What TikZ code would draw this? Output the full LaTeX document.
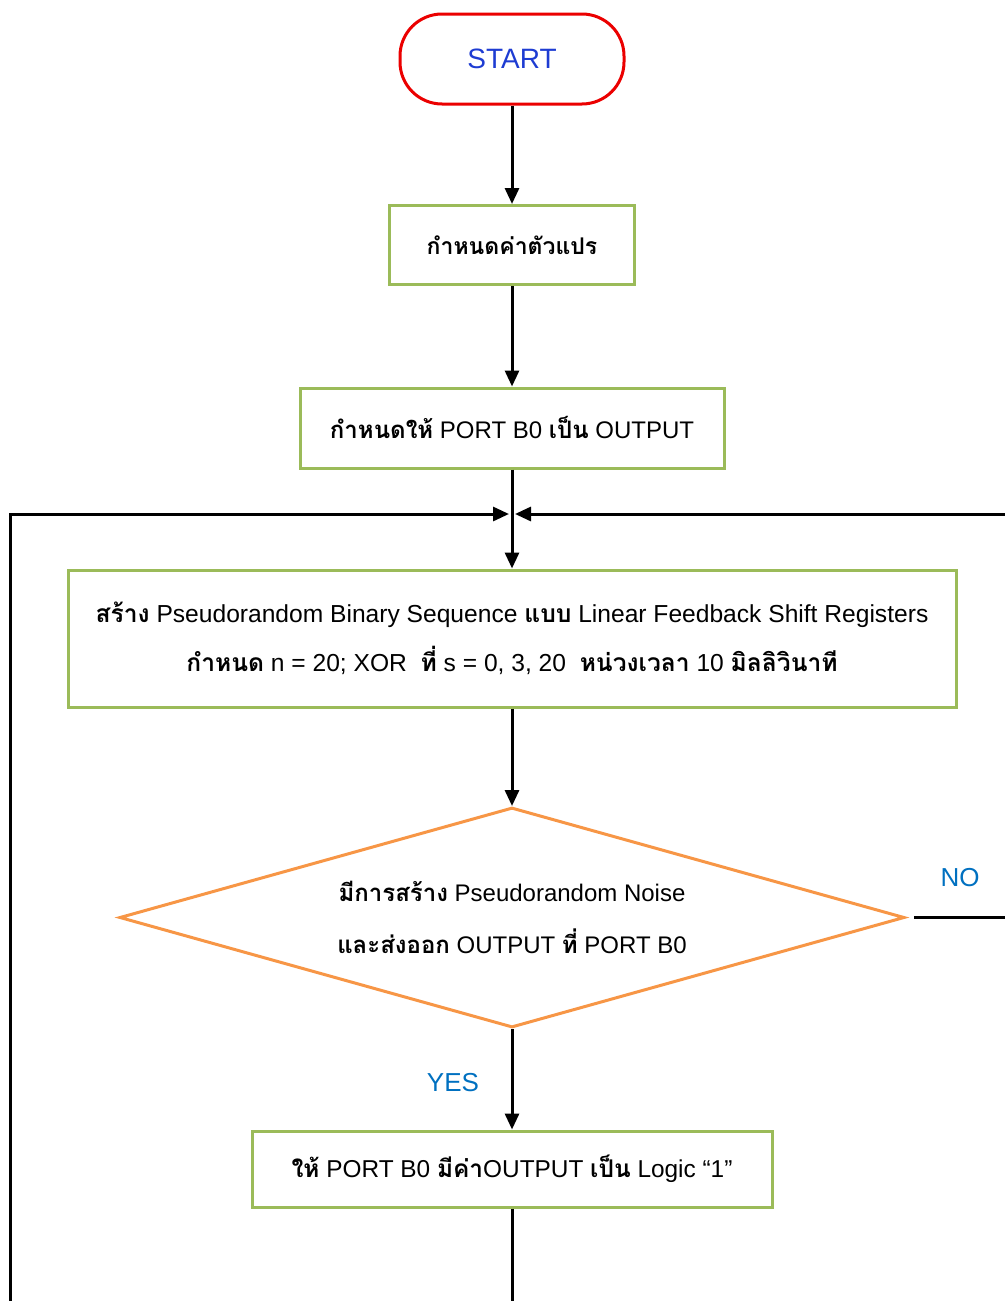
\documentclass[tikz,border=0pt]{standalone}
\usepackage{fontspec}
\setmainfont{Liberation Sans}
\newfontfamily\thaifont[Script=Thai]{Loma}
\newcommand{\thb}[1]{{\thaifont\bfseries #1}}
\usetikzlibrary{shapes.geometric,arrows.meta}
\definecolor{boxgreen}{RGB}{155,187,89}
\definecolor{decorange}{RGB}{247,150,70}
\definecolor{startred}{RGB}{235,0,0}
\definecolor{startblue}{RGB}{30,60,210}
\definecolor{labelblue}{RGB}{0,112,192}

\begin{document}
\begin{tikzpicture}[x=1pt,y=1pt,
    term/.style={rectangle, draw=startred, line width=1.5pt, rounded corners=21pt, minimum width=112pt, minimum height=45pt, text=startblue, font=\fontsize{14}{16}\selectfont},
    box/.style={rectangle, draw=boxgreen, line width=1.5pt, text centered, font=\fontsize{12.2}{14}\selectfont},
    dec/.style={diamond, draw=decorange, line width=1.5pt, shape aspect=3.5, inner sep=0pt, minimum width=392.5pt, minimum height=110pt, align=center, font=\fontsize{12}{26}\selectfont},
    lbl/.style={text=labelblue, font=\fontsize{13}{15}\selectfont},
    arrow/.style={line width=1.5pt,-{Triangle[length=8pt,width=7pt]}},
    line/.style={line width=1.5pt}
]
    \useasboundingbox (0,0) rectangle (502.5,-650.5);
    \node[term] (start) at (256,-29.5) {START};
    \node[box, below of=start, node distance=93pt, minimum width=122.5pt, minimum height=39.5pt, font=\fontsize{11.5}{13}\selectfont] (vars) {\thb{กำหนดค่าตัวแปร}};
    \node[box, below of=vars, node distance=91.5pt, minimum width=212pt, minimum height=40pt, font=\fontsize{12}{14}\selectfont] (port) {\thb{กำหนดให้} PORT B0 \thb{เป็น} OUTPUT};
    \node[box, below of=port, node distance=105.25pt, minimum width=444pt, minimum height=68.5pt, align=center, font=\fontsize{12.3}{25}\selectfont] (prbs)
        {\thb{สร้าง} Pseudorandom Binary Sequence \thb{แบบ} Linear Feedback Shift Registers\\[-0.4pt]
         \thb{กำหนด} n = 20; XOR \ \thb{ที่} s = 0, 3, 20 \ \thb{หน่วงเวลา} 10 \thb{มิลลิวินาที}};
    \node[dec, below of=prbs, node distance=139.5pt] (noise)
        {\thb{มีการสร้าง} Pseudorandom Noise\\ \thb{และส่งออก} OUTPUT \thb{ที่} PORT B0};
    \node[box, below of=noise, node distance=125.75pt, minimum width=260pt, minimum height=38pt] (logic) {\thb{ให้} PORT B0 \thb{มีค่า}OUTPUT \thb{เป็น} Logic “1”};
    \node[lbl] (no) at (480,-439) {NO};
    \node[lbl] (yes) at (226.5,-541.5) {YES};

    % loop ends outside the frame
    \coordinate (jn) at (256,-257);
    \coordinate (lbot) at (5,-650.5);
    \coordinate (rtop) at (502.5,-257);
    \coordinate (rno) at (502.5,-458.75);
    \coordinate (bot) at (256,-650.5);

    \draw[arrow] (start) -- (vars);
    \draw[arrow] (vars) -- (port);
    \draw[arrow] (port) -- (prbs);
    \draw[arrow] (prbs) -- (noise.north);
    \draw[arrow] (noise) -- (logic);
    \draw[line] (logic) -- (bot);
    \draw[arrow] (lbot) |- ([xshift=-1.5pt]jn);
    \draw[arrow] (rtop) -- ([xshift=1.5pt]jn);
    \draw[line] ([xshift=4pt]noise.east) -- (rno);
\end{tikzpicture}
\end{document}
